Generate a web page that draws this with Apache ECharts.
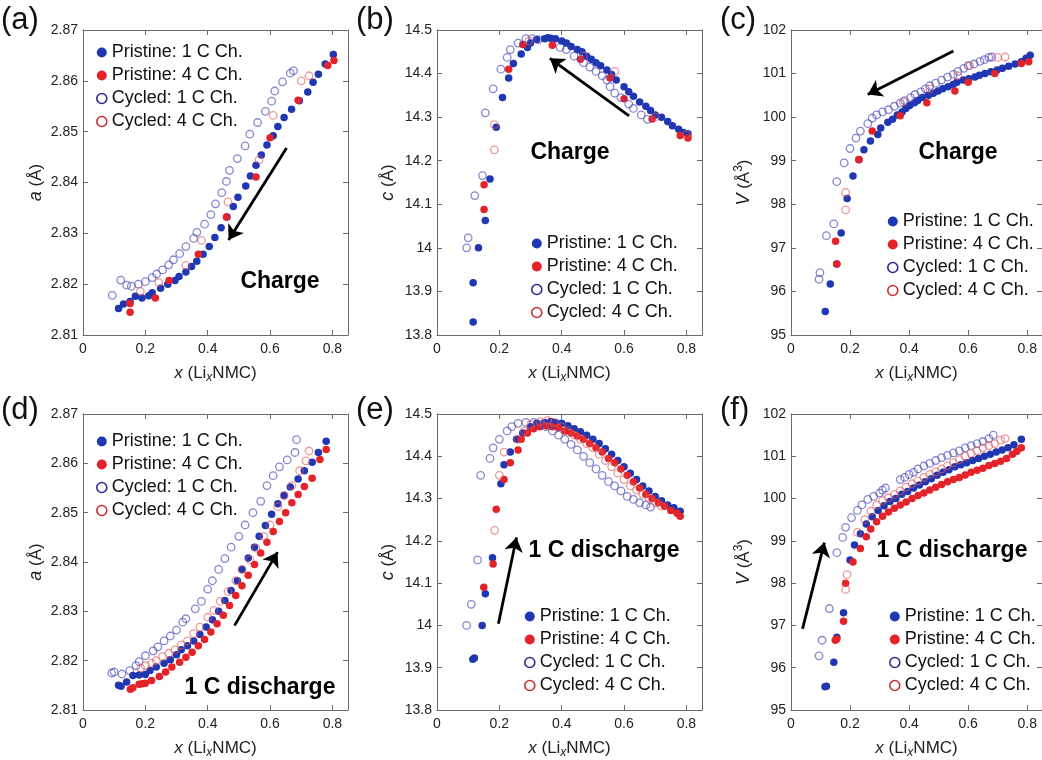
<!DOCTYPE html>
<html>
<head>
<meta charset="utf-8">
<script src="https://cdn.jsdelivr.net/npm/echarts@6/dist/echarts.min.js"></script>
<style>html,body{margin:0;padding:0;background:#fff;}#c{width:1042px;height:760px;}</style>
</head>
<body>
<div id="c"></div>
<script>
// ---------- DATA ----------
const seriesNames = ['Pristine: 1 C Ch.', 'Pristine: 4 C Ch.', 'Cycled: 1 C Ch.', 'Cycled: 4 C Ch.'];
const panelLetters = ['(a)', '(b)', '(c)', '(d)', '(e)', '(f)'];
const xTicks = [0, 0.2, 0.4, 0.6, 0.8];

// (a) lattice a, charge
const aChP1 = [[0.114,2.8152],[0.13,2.8161],[0.151,2.8166],[0.168,2.8176],[0.189,2.8173],[0.211,2.8177],[0.222,2.8183],[0.249,2.8192],[0.272,2.8200],[0.295,2.8207],[0.308,2.8215],[0.330,2.8224],[0.348,2.8235],[0.365,2.8245],[0.385,2.8259],[0.405,2.8274],[0.423,2.8292],[0.443,2.8311],[0.462,2.8332],[0.482,2.8353],[0.497,2.8371],[0.522,2.8393],[0.537,2.8413],[0.555,2.8434],[0.572,2.8454],[0.590,2.8474],[0.610,2.8492],[0.625,2.8510],[0.645,2.8528],[0.669,2.8544],[0.694,2.8561],[0.721,2.8578],[0.738,2.8597],[0.755,2.8613],[0.777,2.8633],[0.803,2.8652]];
const aChP4 = [[0.151,2.8162],[0.151,2.8145],[0.232,2.8173],[0.276,2.8207],[0.37,2.8259],[0.46,2.8332],[0.555,2.8411],[0.60,2.8488],[0.69,2.8562],[0.785,2.8630],[0.805,2.8640]];
const aChC1 = [[0.094,2.8178],[0.121,2.8208],[0.14,2.8198],[0.155,2.8196],[0.178,2.8200],[0.20,2.8205],[0.222,2.8213],[0.236,2.8220],[0.255,2.8228],[0.275,2.8238],[0.29,2.8248],[0.31,2.8260],[0.33,2.8274],[0.355,2.8290],[0.365,2.8302],[0.39,2.8318],[0.41,2.8337],[0.425,2.8358],[0.445,2.8380],[0.46,2.8402],[0.47,2.8424],[0.495,2.8447],[0.52,2.8472],[0.535,2.8495],[0.56,2.8518],[0.585,2.8540],[0.605,2.8560],[0.615,2.8580],[0.64,2.8598],[0.665,2.8615],[0.675,2.8620]];
const aChC4 = [[0.184,2.8186],[0.243,2.8203],[0.33,2.8237],[0.38,2.8286],[0.465,2.8362],[0.565,2.8445],[0.61,2.8532],[0.70,2.8600],[0.725,2.8610]];

// (b) lattice c, charge
const cChP1 = [[0.116,13.83],[0.116,13.92],[0.133,14.0],[0.155,14.063],[0.17,14.158],[0.19,14.277],[0.21,14.345],[0.23,14.39],[0.245,14.423],[0.27,14.445],[0.29,14.46],[0.30,14.47],[0.32,14.478],[0.345,14.48],[0.355,14.482],[0.365,14.481],[0.38,14.48],[0.40,14.475],[0.415,14.47],[0.43,14.462],[0.45,14.455],[0.465,14.45],[0.48,14.44],[0.495,14.433],[0.51,14.425],[0.525,14.418],[0.545,14.408],[0.56,14.398],[0.575,14.385],[0.60,14.37],[0.615,14.358],[0.63,14.348],[0.65,14.335],[0.67,14.325],[0.685,14.315],[0.70,14.305],[0.72,14.30],[0.74,14.29],[0.755,14.28],[0.775,14.272],[0.79,14.265],[0.805,14.262]];
const cChP4 = [[0.151,14.145],[0.151,14.088],[0.23,14.41],[0.275,14.467],[0.37,14.465],[0.46,14.433],[0.555,14.39],[0.60,14.342],[0.69,14.296],[0.78,14.258],[0.805,14.252]];
const cChC1 = [[0.095,14.0],[0.10,14.023],[0.121,14.12],[0.146,14.166],[0.155,14.31],[0.18,14.365],[0.205,14.41],[0.225,14.437],[0.235,14.455],[0.26,14.47],[0.285,14.48],[0.305,14.48],[0.325,14.478],[0.395,14.46],[0.415,14.455],[0.44,14.44],[0.47,14.425],[0.49,14.415],[0.51,14.405],[0.53,14.395],[0.545,14.385],[0.555,14.37],[0.57,14.355],[0.59,14.345],[0.615,14.33],[0.63,14.32],[0.655,14.305],[0.675,14.295]];
const cChC4 = [[0.184,14.283],[0.184,14.225],[0.295,14.475],[0.47,14.44],[0.57,14.405],[0.70,14.30],[0.80,14.26]];

// (c) volume, charge
const vChP1 = [[0.116,95.54],[0.133,96.17],[0.155,96.63],[0.17,97.34],[0.19,98.13],[0.21,98.65],[0.23,99.02],[0.247,99.25],[0.269,99.45],[0.294,99.6],[0.304,99.75],[0.328,99.88],[0.344,99.95],[0.36,100.05],[0.376,100.12],[0.389,100.2],[0.402,100.27],[0.418,100.33],[0.429,100.38],[0.445,100.45],[0.466,100.5],[0.482,100.55],[0.498,100.6],[0.514,100.65],[0.532,100.7],[0.549,100.75],[0.562,100.8],[0.583,100.85],[0.602,100.88],[0.623,100.92],[0.638,100.96],[0.657,101.0],[0.677,101.04],[0.698,101.08],[0.716,101.12],[0.737,101.17],[0.759,101.22],[0.78,101.27],[0.796,101.35],[0.81,101.42]];
const vChP4 = [[0.151,97.15],[0.155,96.63],[0.23,99.03],[0.275,99.68],[0.37,100.03],[0.46,100.33],[0.555,100.6],[0.60,100.8],[0.69,101.0],[0.78,101.23],[0.805,101.27]];
const vChC1 = [[0.095,96.28],[0.098,96.43],[0.12,97.28],[0.145,97.55],[0.155,98.52],[0.18,98.95],[0.2,99.28],[0.22,99.52],[0.235,99.68],[0.26,99.85],[0.275,99.98],[0.29,100.05],[0.31,100.12],[0.33,100.17],[0.35,100.25],[0.37,100.32],[0.385,100.38],[0.405,100.45],[0.42,100.52],[0.44,100.58],[0.455,100.65],[0.47,100.72],[0.49,100.78],[0.51,100.85],[0.53,100.92],[0.55,100.98],[0.565,101.05],[0.585,101.12],[0.6,101.18],[0.62,101.22],[0.64,101.28],[0.655,101.32],[0.67,101.37],[0.68,101.38]];
const vChC4 = [[0.185,98.27],[0.185,97.87],[0.38,100.35],[0.47,100.65],[0.565,100.95],[0.605,101.18],[0.70,101.37],[0.725,101.38]];

// (d) lattice a, 1 C discharge
const aDcP1 = [[0.114,2.8150],[0.122,2.8148],[0.14,2.8157],[0.16,2.8170],[0.18,2.8171],[0.2,2.8172],[0.215,2.8180],[0.235,2.8187],[0.26,2.8195],[0.28,2.8202],[0.3,2.8212],[0.315,2.8222],[0.335,2.8230],[0.355,2.8240],[0.375,2.8253],[0.395,2.8268],[0.415,2.8283],[0.435,2.8300],[0.455,2.8322],[0.475,2.8342],[0.495,2.8362],[0.51,2.8385],[0.53,2.8408],[0.55,2.8430],[0.565,2.8452],[0.585,2.8474],[0.605,2.8497],[0.625,2.8518],[0.645,2.8535],[0.665,2.8552],[0.69,2.8568],[0.71,2.8585],[0.735,2.8602],[0.755,2.8622],[0.78,2.8645]];
const aDcP4 = [[0.152,2.8142],[0.16,2.8145],[0.18,2.8152],[0.19,2.8153],[0.2,2.8154],[0.22,2.8160],[0.245,2.8168],[0.265,2.8177],[0.285,2.8187],[0.31,2.8197],[0.33,2.8207],[0.35,2.8217],[0.37,2.8230],[0.39,2.8243],[0.41,2.8258],[0.43,2.8275],[0.45,2.8292],[0.47,2.8312],[0.49,2.8332],[0.51,2.8352],[0.53,2.8373],[0.55,2.8395],[0.57,2.8418],[0.59,2.8440],[0.61,2.8462],[0.63,2.8482],[0.65,2.8500],[0.67,2.8520],[0.69,2.8537],[0.71,2.8553],[0.735,2.8570],[0.76,2.8608],[0.78,2.8628]];
const aDcC1 = [[0.092,2.8175],[0.1,2.8177],[0.125,2.8173],[0.15,2.8180],[0.17,2.8190],[0.18,2.8198],[0.2,2.8210],[0.225,2.8220],[0.24,2.8228],[0.26,2.8240],[0.28,2.8250],[0.3,2.8262],[0.32,2.8278],[0.33,2.8285],[0.36,2.8305],[0.38,2.8320],[0.4,2.8345],[0.415,2.8362],[0.435,2.8385],[0.455,2.8407],[0.475,2.8430],[0.5,2.8452],[0.52,2.8475],[0.545,2.8500],[0.57,2.8523],[0.59,2.8555],[0.61,2.8575],[0.63,2.8593],[0.655,2.8607],[0.68,2.8622],[0.685,2.8648]];
const aDcC4 = [[0.185,2.8185],[0.2,2.8190],[0.22,2.8195],[0.235,2.8200],[0.255,2.8208],[0.275,2.8215],[0.295,2.8222],[0.315,2.8232],[0.335,2.8240],[0.355,2.8255],[0.375,2.8268],[0.4,2.8288],[0.42,2.8302],[0.44,2.8320],[0.465,2.8340],[0.49,2.8362],[0.51,2.8385],[0.535,2.8405],[0.555,2.8428],[0.58,2.8452],[0.6,2.8475],[0.625,2.8512],[0.645,2.8535],[0.67,2.8555],[0.695,2.8585],[0.715,2.8605],[0.725,2.8625]];

// (e) lattice c, 1 C discharge
const cDcP1 = [[0.115,13.92],[0.12,13.923],[0.145,14.0],[0.155,14.075],[0.178,14.16],[0.205,14.335],[0.215,14.38],[0.235,14.41],[0.255,14.44],[0.275,14.455],[0.3,14.47],[0.32,14.478],[0.345,14.48],[0.365,14.482],[0.38,14.48],[0.4,14.478],[0.42,14.472],[0.44,14.465],[0.46,14.458],[0.48,14.45],[0.5,14.44],[0.52,14.43],[0.54,14.418],[0.56,14.405],[0.58,14.39],[0.6,14.375],[0.62,14.36],[0.64,14.345],[0.66,14.33],[0.68,14.318],[0.7,14.305],[0.72,14.295],[0.74,14.285],[0.76,14.278],[0.78,14.27]];
const cDcP4 = [[0.15,14.09],[0.18,14.145],[0.19,14.275],[0.215,14.345],[0.235,14.385],[0.26,14.415],[0.27,14.44],[0.29,14.455],[0.31,14.465],[0.33,14.47],[0.35,14.472],[0.37,14.47],[0.39,14.468],[0.41,14.46],[0.43,14.455],[0.45,14.448],[0.47,14.44],[0.49,14.43],[0.51,14.42],[0.53,14.41],[0.55,14.395],[0.57,14.385],[0.59,14.37],[0.61,14.355],[0.63,14.34],[0.65,14.325],[0.67,14.31],[0.69,14.3],[0.71,14.29],[0.73,14.282],[0.75,14.272],[0.77,14.265],[0.78,14.258]];
const cDcC1 = [[0.095,14.0],[0.11,14.05],[0.13,14.155],[0.14,14.355],[0.17,14.395],[0.18,14.42],[0.2,14.44],[0.225,14.46],[0.24,14.47],[0.26,14.478],[0.285,14.48],[0.31,14.48],[0.33,14.475],[0.35,14.47],[0.37,14.46],[0.39,14.45],[0.41,14.44],[0.43,14.428],[0.45,14.415],[0.47,14.4],[0.49,14.385],[0.51,14.37],[0.53,14.355],[0.55,14.34],[0.57,14.33],[0.59,14.318],[0.61,14.305],[0.63,14.298],[0.65,14.29],[0.67,14.285],[0.685,14.28]];
const cDcC4 = [[0.185,14.225],[0.2,14.355],[0.215,14.41],[0.26,14.44],[0.28,14.46],[0.3,14.475],[0.33,14.482],[0.355,14.485],[0.375,14.48],[0.4,14.47],[0.42,14.46],[0.44,14.45],[0.46,14.44],[0.48,14.43],[0.5,14.42],[0.52,14.405],[0.54,14.39],[0.56,14.375],[0.58,14.36],[0.6,14.345],[0.62,14.33],[0.64,14.32],[0.66,14.31],[0.68,14.3],[0.7,14.29],[0.72,14.282]];

// (f) volume, 1 C discharge
const vDcP1 = [[0.115,95.55],[0.12,95.56],[0.145,96.13],[0.155,96.72],[0.178,97.3],[0.2,98.55],[0.215,98.9],[0.235,99.17],[0.255,99.4],[0.275,99.57],[0.295,99.72],[0.315,99.83],[0.335,99.93],[0.355,100.0],[0.375,100.1],[0.395,100.17],[0.415,100.25],[0.435,100.32],[0.455,100.4],[0.475,100.47],[0.495,100.55],[0.515,100.62],[0.535,100.68],[0.555,100.75],[0.575,100.8],[0.595,100.85],[0.615,100.9],[0.635,100.95],[0.655,101.0],[0.675,101.05],[0.695,101.1],[0.715,101.15],[0.735,101.2],[0.755,101.27],[0.78,101.4]];
const vDcP4 = [[0.15,96.65],[0.155,96.68],[0.178,97.1],[0.185,98.0],[0.21,98.5],[0.235,98.82],[0.255,99.1],[0.27,99.28],[0.29,99.45],[0.31,99.58],[0.33,99.68],[0.35,99.77],[0.37,99.85],[0.39,99.92],[0.41,100.0],[0.43,100.07],[0.45,100.13],[0.47,100.2],[0.49,100.27],[0.51,100.33],[0.53,100.4],[0.55,100.45],[0.57,100.5],[0.59,100.56],[0.61,100.62],[0.63,100.67],[0.65,100.72],[0.67,100.78],[0.69,100.83],[0.71,100.88],[0.73,100.95],[0.75,101.05],[0.765,101.12],[0.78,101.2]];
const vDcC1 = [[0.095,96.28],[0.105,96.65],[0.13,97.4],[0.155,98.72],[0.175,99.08],[0.185,99.32],[0.205,99.55],[0.225,99.72],[0.24,99.85],[0.26,99.98],[0.28,100.05],[0.3,100.13],[0.31,100.2],[0.32,100.25],[0.37,100.45],[0.385,100.5],[0.4,100.57],[0.415,100.62],[0.43,100.7],[0.45,100.77],[0.47,100.83],[0.49,100.9],[0.51,100.97],[0.53,101.02],[0.55,101.08],[0.57,101.13],[0.59,101.2],[0.61,101.25],[0.63,101.3],[0.65,101.35],[0.67,101.42],[0.685,101.5]];
const vDcC4 = [[0.185,97.85],[0.19,98.2],[0.225,99.2],[0.25,99.5],[0.27,99.7],[0.29,99.85],[0.31,99.95],[0.33,100.02],[0.35,100.1],[0.37,100.18],[0.39,100.27],[0.41,100.35],[0.43,100.42],[0.45,100.5],[0.47,100.57],[0.49,100.63],[0.51,100.7],[0.53,100.78],[0.55,100.85],[0.57,100.92],[0.59,101.0],[0.61,101.07],[0.63,101.13],[0.65,101.2],[0.67,101.25],[0.69,101.3],[0.71,101.38],[0.725,101.42]];

// y-axis ranges [min, max, interval] per panel
const yRanges = [[2.81, 2.87, 0.01], [13.8, 14.5, 0.1], [95, 102, 1], [2.81, 2.87, 0.01], [13.8, 14.5, 0.1], [95, 102, 1]];
// annotation arrows (tail -> head) in data coordinates
const arrows = [
  [[0.653, 2.8468], [0.467, 2.8287]],
  [[0.616, 14.303], [0.362, 14.435]],
  [[0.55, 101.52], [0.26, 100.52]],
  [[0.486, 2.8271], [0.624, 2.842]],
  [[0.197, 14.004], [0.255, 14.208]],
  [[0.039, 96.92], [0.113, 98.96]]
];
const annotations = ['Charge', 'Charge', 'Charge', '1 C discharge', '1 C discharge', '1 C discharge'];

const panelData = [
  [aChP1, aChP4, aChC1, aChC4],
  [cChP1, cChP4, cChC1, cChC4],
  [vChP1, vChP4, vChC1, vChC4],
  [aDcP1, aDcP4, aDcC1, aDcC4],
  [cDcP1, cDcP4, cDcC1, cDcC4],
  [vDcP1, vDcP4, vDcC1, vDcC4]
];

// ---------- LAYOUT / STYLE ----------
const FONT = "'Liberation Sans', Arial, Helvetica, sans-serif";
const gridLeft = [83, 437, 791, 83, 437, 791];
const gridTop = [30, 30, 30, 414, 414, 414];
const gridH = [305, 305, 305, 302, 302, 302];
const GRID_W = 265;
const AXIS_COLOR = '#6a6a6a';

const yNames = [
  '{i|a} (Å)', '{i|c} (Å)', '{i|V} (Å{sup|3})',
  '{i|a} (Å)', '{i|c} (Å)', '{i|V} (Å{sup|3})'
];
const yNameGap = [38, 40, 36, 38, 40, 36];

const markerStyles = [
  { symbolSize: 7.5, itemStyle: { color: '#1f37b2', opacity: 1 } },
  { symbolSize: 7.5, itemStyle: { color: '#e3222a', opacity: 1 } },
  { symbolSize: 7.5, itemStyle: { color: 'rgba(255,255,255,0)', borderColor: 'rgba(70,70,185,0.65)', borderWidth: 1.3, opacity: 1 } },
  { symbolSize: 7.5, itemStyle: { color: 'rgba(255,255,255,0)', borderColor: 'rgba(225,85,85,0.6)', borderWidth: 1.3, opacity: 1 } }
];
const legendIconStyles = [
  { color: '#1f37b2' },
  { color: '#e3222a' },
  { color: '#ffffff', borderColor: '#2b2b95', borderWidth: 1.6 },
  { color: '#ffffff', borderColor: '#c83030', borderWidth: 1.6 }
];
const legendPos = [[96, 41], [531, 232], [887, 210], [96, 430], [524, 605], [889, 605]];
const annoPos = [[280, 282], [570, 153], [958, 153], [260, 688], [604, 551], [952, 551]];
const letterPos = [[1, 24], [356, 24], [720, 24], [1, 414], [356, 414], [720, 414]];

const grids = [], xAxes = [], yAxes = [], series = [], legends = [], graphics = [];

const baseAxis = {
  axisLine: { show: true, onZero: false, lineStyle: { color: AXIS_COLOR, width: 1 } },
  axisTick: { show: true, inside: true, length: 5, lineStyle: { color: AXIS_COLOR, width: 1 } },
  splitLine: { show: false },
  minorTick: { show: false }
};

for (let i = 0; i < 6; i++) {
  grids.push({ left: gridLeft[i], top: gridTop[i], width: GRID_W, height: gridH[i], containLabel: false });
  const [ymin, ymax, yint] = yRanges[i];
  xAxes.push(Object.assign({}, baseAxis, {
    type: 'value', gridIndex: i, position: 'bottom', min: 0, max: 0.85, interval: 0.2,
    axisLabel: { show: true, color: '#222', fontSize: 14, fontFamily: FONT, margin: 7, showMaxLabel: false },
    name: '{i|x} (Li{sub|x}NMC)', nameLocation: 'middle', nameGap: 27,
    nameTextStyle: {
      color: '#222', fontSize: 17, fontFamily: FONT,
      rich: {
        i: { fontStyle: 'italic', fontSize: 17, fontFamily: FONT, color: '#222' },
        sub: { fontStyle: 'italic', fontSize: 12, fontFamily: FONT, color: '#222', padding: [10, 0, 0, 0] }
      }
    }
  }));
  xAxes.push(Object.assign({}, baseAxis, {
    type: 'value', gridIndex: i, position: 'top', min: 0, max: 0.85, interval: 0.2,
    axisLabel: { show: false }
  }));
  yAxes.push(Object.assign({}, baseAxis, {
    type: 'value', gridIndex: i, position: 'left', min: ymin, max: ymax, interval: yint,
    axisLabel: { show: true, color: '#222', fontSize: 14, fontFamily: FONT, margin: 5 },
    name: yNames[i], nameLocation: 'middle', nameGap: yNameGap[i], nameRotate: 90,
    nameTextStyle: {
      color: '#222', fontSize: 17, fontFamily: FONT,
      rich: {
        i: { fontStyle: 'italic', fontSize: 18, fontFamily: FONT, color: '#222' },
        sup: { fontSize: 12, fontFamily: FONT, color: '#222', padding: [0, 0, 10, 0] }
      }
    }
  }));
  yAxes.push(Object.assign({}, baseAxis, {
    type: 'value', gridIndex: i, position: 'right', min: ymin, max: ymax, interval: yint,
    axisLabel: { show: false }
  }));

  panelData[i].forEach((pts, k) => {
    const s = {
      type: 'scatter', name: seriesNames[k], xAxisIndex: 2 * i, yAxisIndex: 2 * i,
      data: pts, symbol: 'circle', symbolSize: markerStyles[k].symbolSize,
      itemStyle: markerStyles[k].itemStyle, emphasis: { disabled: true }, silent: true
    };
    if (k === 0) {
      s.markLine = {
        silent: true, symbol: ['none', 'arrow'], symbolSize: 14, animation: false,
        lineStyle: { color: '#000', width: 2.8, type: 'solid', opacity: 1 },
        label: { show: false }, emphasis: { disabled: true },
        data: [[{ coord: arrows[i][0] }, { coord: arrows[i][1] }]]
      };
    }
    series.push(s);
  });

  legends.push({
    show: true, orient: 'vertical', left: legendPos[i][0], top: legendPos[i][1],
    icon: 'circle', itemWidth: 10, itemHeight: 10, itemGap: 0, selectedMode: false,
    padding: 0,
    textStyle: { color: '#111', fontSize: 18, fontFamily: FONT, lineHeight: 23 },
    data: seriesNames.map((n, k) => ({ name: n, itemStyle: legendIconStyles[k] }))
  });

  graphics.push({
    type: 'text', left: letterPos[i][0], top: letterPos[i][1] - 19,
    style: { text: panelLetters[i], font: '31px ' + FONT, fill: '#111' }
  });
  graphics.push({
    type: 'text', x: annoPos[i][0], y: annoPos[i][1],
    style: { text: annotations[i], font: 'bold 23px ' + FONT, fill: '#000', align: 'center', verticalAlign: 'middle' }
  });
}

const chart = echarts.init(document.getElementById('c'), null, { renderer: 'canvas' });
chart.setOption({
  animation: false,
  backgroundColor: '#ffffff',
  grid: grids, xAxis: xAxes, yAxis: yAxes, series: series, legend: legends, graphic: graphics
});
</script>
</body>
</html>
